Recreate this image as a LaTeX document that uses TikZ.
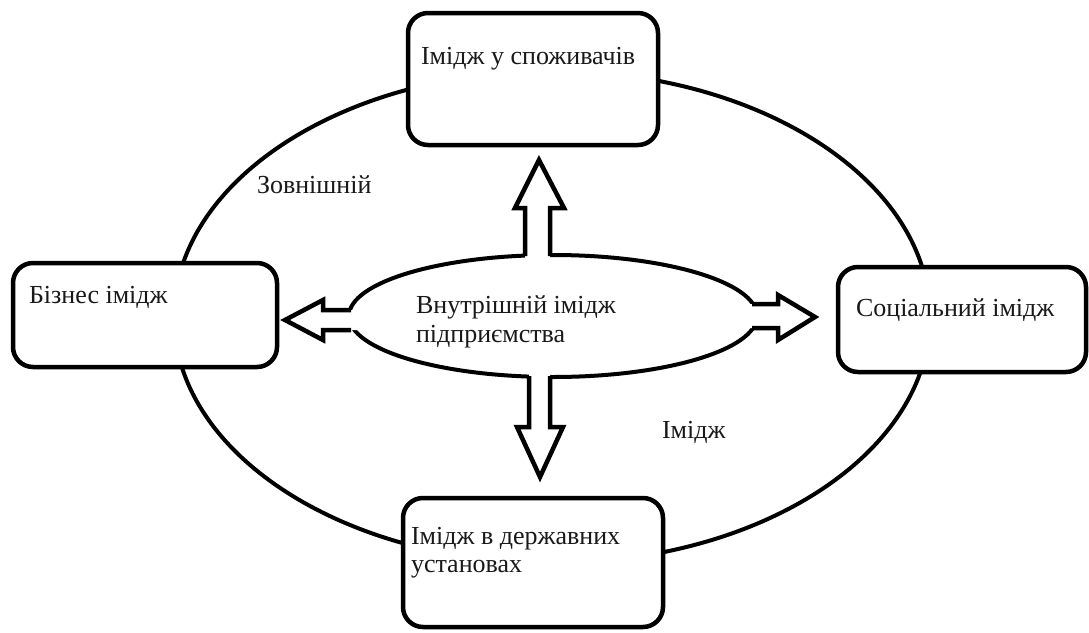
\documentclass[tikz,border=0pt]{standalone}
\usepackage{fontspec}
\setmainfont{Liberation Serif}
\usetikzlibrary{shapes.geometric}
\begin{document}
\begin{tikzpicture}[x=1pt,y=-1pt,
  box/.style={draw=black, fill=white, line width=4.5pt, rounded corners=20pt, inner sep=0pt},
  lbl/.style={inner sep=0pt, outer sep=0pt, font=\fontsize{26}{28.5}\selectfont, text=black!90, align=left},
  ring/.style={draw=black, line width=4pt},
  blk/.style={draw=black, line width=4.5pt, line join=miter}
]
\useasboundingbox[fill=white] (0,0) rectangle (1089,632);
% outer ellipse
\draw[ring] (552,317) ellipse [x radius=378, y radius=246];
% boxes
\node[box, minimum width=250pt, minimum height=132pt] (top) at (533,79) {};
\node[box, minimum width=264pt, minimum height=104pt] (left) at (145,315) {};
\node[box, minimum width=248pt, minimum height=105pt] (right) at (962,319.5) {};
\node[box, minimum width=260pt, minimum height=129pt] (bottom) at (533,562.5) {};
% inner ellipse
\node[ring, ellipse, minimum width=408pt, minimum height=122pt, inner sep=0pt] (inner) at (553,316) {};
% block arrows
\fill[white] (525,262) -- (525,208) -- (515,208) -- (539,160) -- (564,208) -- (550,208) -- (550,262) -- cycle;
\draw[blk] (525,256) -- (525,208) -- (515,208) -- (539,160) -- (564,208) -- (550,208) -- (550,256);
\fill[white] (529,370) -- (529,427) -- (517,427) -- (540,477) -- (563,427) -- (550,427) -- (550,370) -- cycle;
\draw[blk] (529,376) -- (529,427) -- (517,427) -- (540,477) -- (563,427) -- (550,427) -- (550,376);
\fill[white] (358,310) -- (323,310) -- (323,300) -- (285,320) -- (323,340) -- (323,330) -- (358,330) -- cycle;
\draw[blk] (351,310) -- (323,310) -- (323,300) -- (285,320) -- (323,340) -- (323,330) -- (351,330);
\fill[white] (745,304) -- (778,304) -- (778,295) -- (815,317) -- (778,340) -- (778,328) -- (745,328) -- cycle;
\draw[blk] (752,304) -- (778,304) -- (778,295) -- (815,317) -- (778,340) -- (778,328) -- (752,328);
% texts
\node[lbl, anchor=base west] (ttop) at (421,64) {Імідж у споживачів};
\node[lbl, anchor=base west] (tleft) at (29,303) {Бізнес імідж};
\node[lbl, anchor=base west] (tright) at (856,316) {Соціальний імідж};
\node[lbl, anchor=north west] (tbottom) at (411,527) {Імідж в державних\\установах};
\node[lbl, anchor=north west] (tinner) at (416,296) {Внутрішній імідж\\підприємства};
\node[lbl, anchor=base west] (text) at (257,193) {Зовнішній};
\node[lbl, anchor=base west] (timg) at (662,438) {Імідж};
\end{tikzpicture}
\end{document}
